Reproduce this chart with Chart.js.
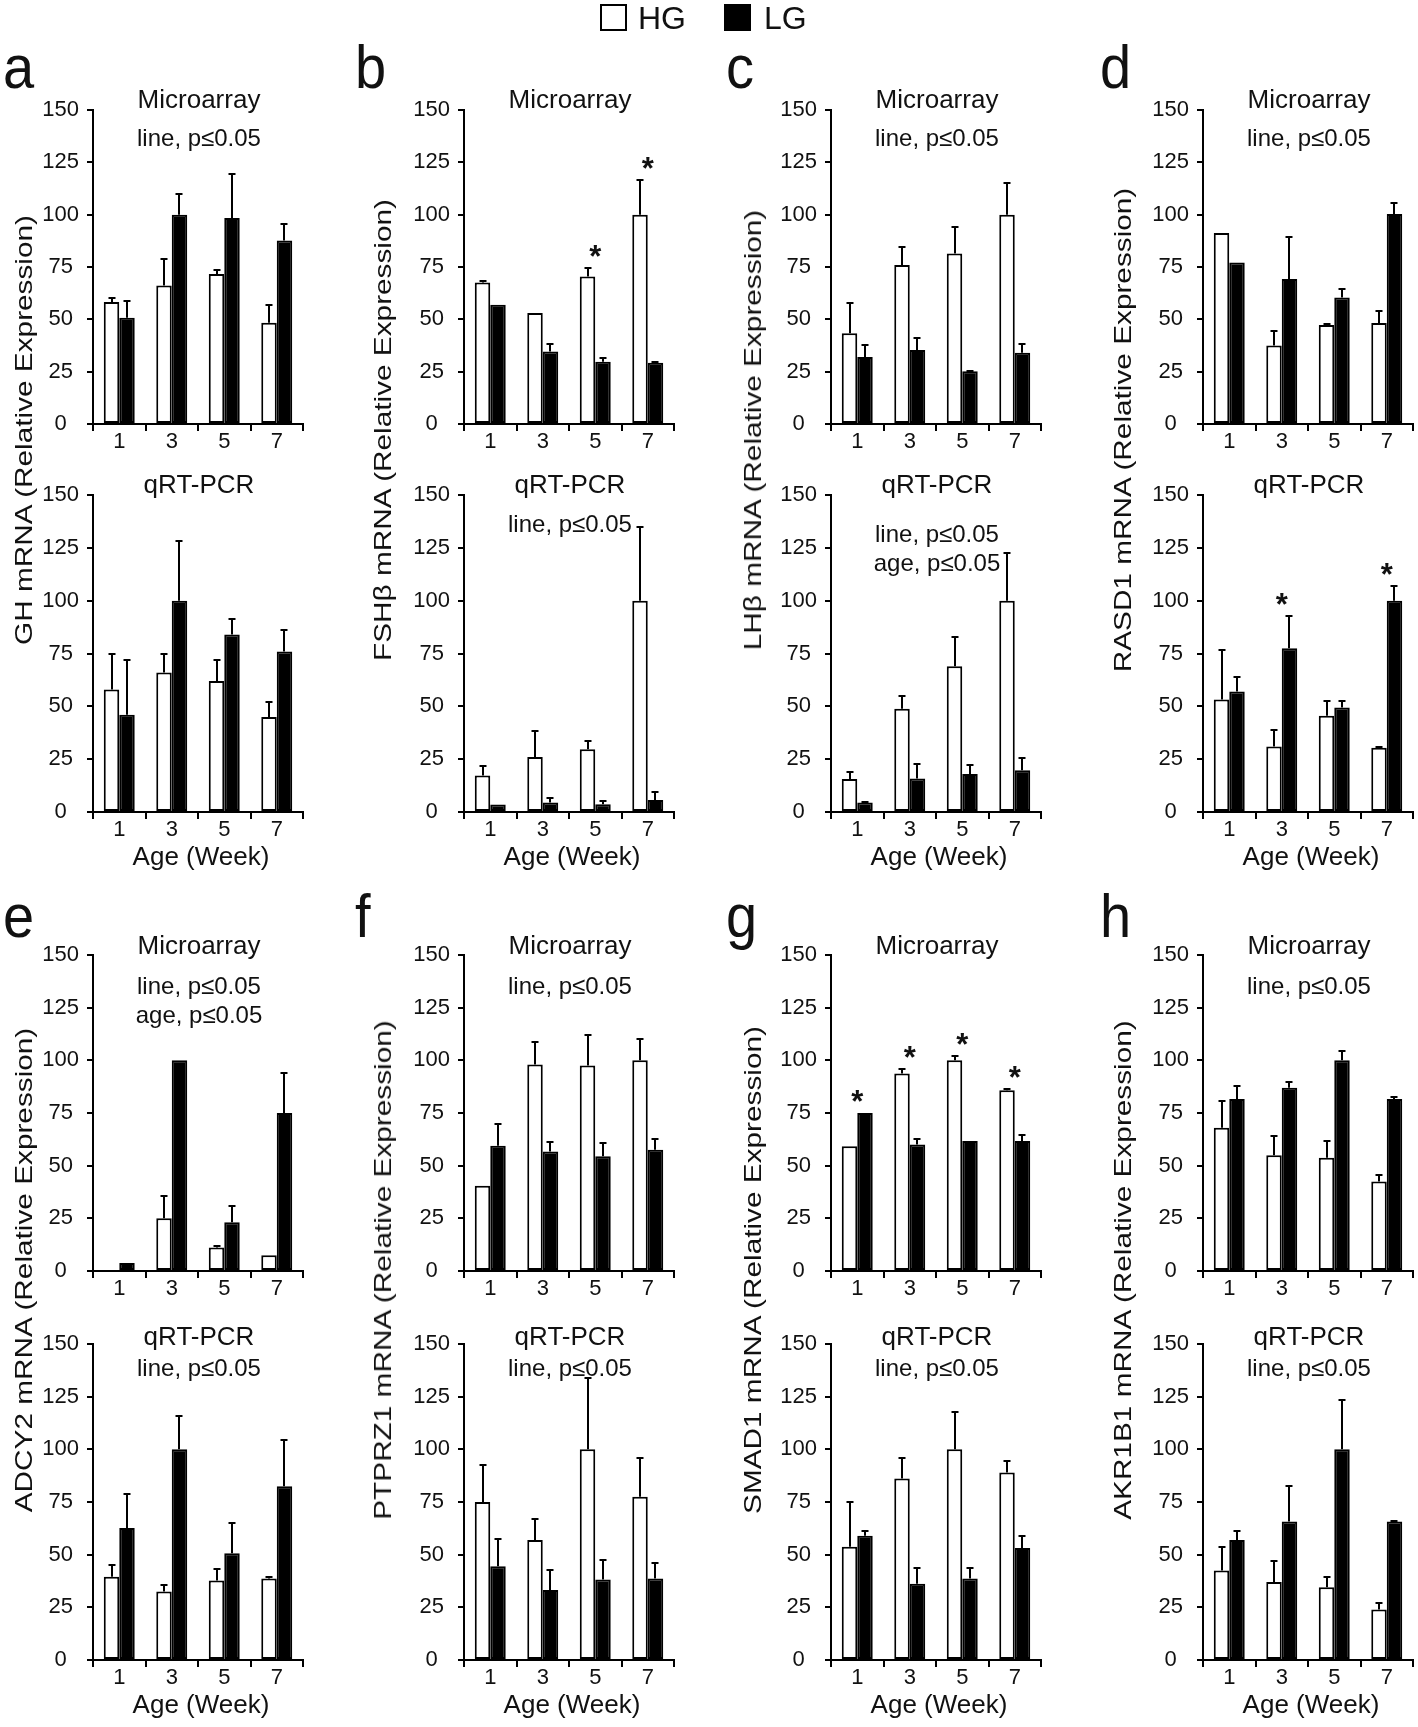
<!DOCTYPE html>
<html>
<head>
<meta charset="utf-8">
<script src="https://cdn.jsdelivr.net/npm/chart.js@4.4.1/dist/chart.umd.min.js"></script>
<style>
  html, body { margin: 0; padding: 0; background: #ffffff; }
  #fig { position: relative; width: 1418px; height: 1727px; overflow: hidden; background: #ffffff;
         font-family: "Liberation Sans", Arial, Helvetica, sans-serif; color: #111; }
  #fig canvas { position: absolute; }
  .txt { position: absolute; white-space: nowrap; line-height: 1; }
  .box { position: absolute; box-sizing: border-box; border: 2px solid #000; }
</style>
</head>
<body>
<div id="fig"></div>
<script>
// ---------------- data ----------------
const weeks = ['1', '3', '5', '7'];
const yTickValues = [0, 25, 50, 75, 100, 125, 150];
const groupNames = ['HG', 'LG'];

// a  GH
const GH_mic_HG = [58.3, 66.2, 71.7, 48.4];
const GH_mic_HG_se = [2.0, 12.4, 2.1, 8.4];
const GH_mic_LG = [50.8, 100, 98.4, 87.6];
const GH_mic_LG_se = [7.9, 10.0, 21.0, 8.0];
const GH_pcr_HG = [58, 66, 62, 45];
const GH_pcr_HG_se = [17, 9, 10, 7];
const GH_pcr_LG = [46, 100, 84, 76];
const GH_pcr_LG_se = [26, 28, 7.5, 10];

// b  FSHβ
const FSHB_mic_HG = [67.6, 53, 70.5, 100];
const FSHB_mic_HG_se = [0.5, 0, 4.2, 16.7];
const FSHB_mic_LG = [57, 34.6, 29.7, 29.2];
const FSHB_mic_LG_se = [0, 3.8, 1.9, 0.3];
const FSHB_mic_star = [0, 0, 1, 1];
const FSHB_pcr_HG = [17.3, 26, 29.7, 100];
const FSHB_pcr_HG_se = [4.5, 12.4, 3.7, 35];
const FSHB_pcr_LG = [3.5, 4.5, 3.7, 5.7];
const FSHB_pcr_LG_se = [0, 1.9, 1.7, 3.7];

// c  LHβ
const LHB_mic_HG = [43.4, 76, 81.4, 100];
const LHB_mic_HG_se = [14.3, 8.6, 12.7, 15.2];
const LHB_mic_LG = [32, 35.3, 25.2, 34];
const LHB_mic_LG_se = [5.6, 5.9, 0.3, 4.4];
const LHB_pcr_HG = [15.6, 48.8, 69, 100];
const LHB_pcr_HG_se = [3.2, 5.9, 13.7, 22.5];
const LHB_pcr_LG = [4.5, 15.8, 18, 19.8];
const LHB_pcr_LG_se = [0.3, 6.7, 4.3, 5.9];

// d  RASD1
const RASD1_mic_HG = [91.3, 37.5, 47.3, 48.2];
const RASD1_mic_HG_se = [0, 7, 0.3, 6];
const RASD1_mic_LG = [77.2, 69.3, 60.4, 100.3];
const RASD1_mic_LG_se = [0, 20.2, 4, 5.3];
const RASD1_pcr_HG = [53.2, 31, 45.5, 30.4];
const RASD1_pcr_HG_se = [23.5, 8, 7, 0.4];
const RASD1_pcr_LG = [57, 77.5, 49.5, 100];
const RASD1_pcr_LG_se = [6.9, 15.3, 3.2, 7];
const RASD1_pcr_star = [0, 1, 0, 1];

// e  ADCY2
const ADCY2_mic_HG = [0, 25, 11.2, 7.5];
const ADCY2_mic_HG_se = [0, 10.7, 0.6, 0];
const ADCY2_mic_LG = [3.8, 100, 23.2, 75];
const ADCY2_mic_LG_se = [0, 0, 7.5, 19.2];
const ADCY2_pcr_HG = [39.5, 32.5, 37.7, 38.7];
const ADCY2_pcr_HG_se = [5.5, 3.2, 5.5, 0.8];
const ADCY2_pcr_LG = [62.7, 100, 50.7, 82.5];
const ADCY2_pcr_LG_se = [16, 15.7, 14.5, 22];

// f  PTPRZ1
const PTPRZ1_mic_HG = [40.5, 98, 97.5, 100];
const PTPRZ1_mic_HG_se = [0, 10.7, 14.5, 10];
const PTPRZ1_mic_LG = [59.5, 56.7, 54.5, 57.5];
const PTPRZ1_mic_LG_se = [10.5, 4.5, 6.2, 5];
const PTPRZ1_pcr_HG = [75, 57, 100, 77.5];
const PTPRZ1_pcr_HG_se = [17.5, 10, 33.7, 18.2];
const PTPRZ1_pcr_LG = [44.5, 33.2, 38.2, 38.7];
const PTPRZ1_pcr_LG_se = [13, 9.5, 9.3, 7.5];

// g  SMAD1
const SMAD1_mic_HG = [59.2, 93.7, 100, 85.8];
const SMAD1_mic_HG_se = [0, 2, 2, 0.5];
const SMAD1_mic_LG = [75, 60, 61.7, 61.7];
const SMAD1_mic_LG_se = [0, 2.5, 0, 2.8];
const SMAD1_mic_star = [1, 1, 1, 1];
const SMAD1_pcr_HG = [53.7, 86.2, 100, 89];
const SMAD1_pcr_HG_se = [21.5, 9.5, 17.5, 5.5];
const SMAD1_pcr_LG = [59, 36.2, 38.7, 53.2];
const SMAD1_pcr_LG_se = [2, 7.5, 5, 5.8];

// h  AKR1B1
const AKR1B1_mic_HG = [68, 55, 53.7, 42.5];
const AKR1B1_mic_HG_se = [12.7, 9.2, 8, 3.2];
const AKR1B1_mic_LG = [81.7, 87, 100, 81.7];
const AKR1B1_mic_LG_se = [6.3, 2.5, 4.2, 0.8];
const AKR1B1_pcr_HG = [42.5, 37, 34.5, 24];
const AKR1B1_pcr_HG_se = [11.2, 10, 5, 3];
const AKR1B1_pcr_LG = [57, 65.7, 100, 65.7];
const AKR1B1_pcr_LG_se = [4.2, 16.7, 23.2, 0.5];

const noteLine = 'line, p≤0.05';
const noteAge = 'age, p≤0.05';

const panels = [
  { letter: 'a', ylabel: 'GH mRNA (Relative Expression)', col: 0, row: 0,
    mic: { hg: GH_mic_HG, hgSe: GH_mic_HG_se, lg: GH_mic_LG, lgSe: GH_mic_LG_se, notes: [noteLine] },
    pcr: { hg: GH_pcr_HG, hgSe: GH_pcr_HG_se, lg: GH_pcr_LG, lgSe: GH_pcr_LG_se, notes: [] } },
  { letter: 'b', ylabel: 'FSHβ mRNA (Relative Expression)', col: 1, row: 0,
    mic: { hg: FSHB_mic_HG, hgSe: FSHB_mic_HG_se, lg: FSHB_mic_LG, lgSe: FSHB_mic_LG_se, notes: [], stars: FSHB_mic_star },
    pcr: { hg: FSHB_pcr_HG, hgSe: FSHB_pcr_HG_se, lg: FSHB_pcr_LG, lgSe: FSHB_pcr_LG_se, notes: [noteLine] } },
  { letter: 'c', ylabel: 'LHβ mRNA (Relative Expression)', col: 2, row: 0,
    mic: { hg: LHB_mic_HG, hgSe: LHB_mic_HG_se, lg: LHB_mic_LG, lgSe: LHB_mic_LG_se, notes: [noteLine] },
    pcr: { hg: LHB_pcr_HG, hgSe: LHB_pcr_HG_se, lg: LHB_pcr_LG, lgSe: LHB_pcr_LG_se, notes: [noteLine, noteAge], noteStart: 40 } },
  { letter: 'd', ylabel: 'RASD1 mRNA (Relative Expression)', col: 3, row: 0,
    mic: { hg: RASD1_mic_HG, hgSe: RASD1_mic_HG_se, lg: RASD1_mic_LG, lgSe: RASD1_mic_LG_se, notes: [noteLine] },
    pcr: { hg: RASD1_pcr_HG, hgSe: RASD1_pcr_HG_se, lg: RASD1_pcr_LG, lgSe: RASD1_pcr_LG_se, notes: [], stars: RASD1_pcr_star } },
  { letter: 'e', ylabel: 'ADCY2 mRNA (Relative Expression)', col: 0, row: 1,
    mic: { hg: ADCY2_mic_HG, hgSe: ADCY2_mic_HG_se, lg: ADCY2_mic_LG, lgSe: ADCY2_mic_LG_se, notes: [noteLine, noteAge] },
    pcr: { hg: ADCY2_pcr_HG, hgSe: ADCY2_pcr_HG_se, lg: ADCY2_pcr_LG, lgSe: ADCY2_pcr_LG_se, notes: [noteLine] } },
  { letter: 'f', ylabel: 'PTPRZ1 mRNA (Relative Expression)', col: 1, row: 1,
    mic: { hg: PTPRZ1_mic_HG, hgSe: PTPRZ1_mic_HG_se, lg: PTPRZ1_mic_LG, lgSe: PTPRZ1_mic_LG_se, notes: [noteLine] },
    pcr: { hg: PTPRZ1_pcr_HG, hgSe: PTPRZ1_pcr_HG_se, lg: PTPRZ1_pcr_LG, lgSe: PTPRZ1_pcr_LG_se, notes: [noteLine] } },
  { letter: 'g', ylabel: 'SMAD1 mRNA (Relative Expression)', col: 2, row: 1,
    mic: { hg: SMAD1_mic_HG, hgSe: SMAD1_mic_HG_se, lg: SMAD1_mic_LG, lgSe: SMAD1_mic_LG_se, notes: [], stars: SMAD1_mic_star },
    pcr: { hg: SMAD1_pcr_HG, hgSe: SMAD1_pcr_HG_se, lg: SMAD1_pcr_LG, lgSe: SMAD1_pcr_LG_se, notes: [noteLine] } },
  { letter: 'h', ylabel: 'AKR1B1 mRNA (Relative Expression)', col: 3, row: 1,
    mic: { hg: AKR1B1_mic_HG, hgSe: AKR1B1_mic_HG_se, lg: AKR1B1_mic_LG, lgSe: AKR1B1_mic_LG_se, notes: [noteLine] },
    pcr: { hg: AKR1B1_pcr_HG, hgSe: AKR1B1_pcr_HG_se, lg: AKR1B1_pcr_LG, lgSe: AKR1B1_pcr_LG_se, notes: [noteLine] } }
];

// ---------------- layout ----------------
const FONT = '"Liberation Sans", Arial, Helvetica, sans-serif';
const colX = [93, 464, 831, 1203];               // left edge of plot area
const plotW = 210;
const plotY = [[110, 424], [495, 812], [955, 1271], [1344, 1660]]; // [top(150), bottom(0)]
const titleDy = [-9, -9, -8, -6];
const noteDy = [29, 30, 32, 25];
const noteGap = 29;
const yTitleX = [24, 383, 753, 1123];
const yTitleY = [430, 1270];
const letterX = [3, 355, 726, 1100];
const letterBase = [88, 937];
const PAD_L = 80, PAD_T = 40, PAD_R = 6, PAD_B = 62;

const fig = document.getElementById('fig');

// ---------------- plugins ----------------
const errorBarPlugin = {
  id: 'errorBars',
  afterDatasetsDraw(chart) {
    const ctx = chart.ctx;
    const ys = chart.scales.y, xs = chart.scales.x;
    ctx.save();
    ctx.strokeStyle = '#000';
    ctx.lineWidth = 2;
    chart.data.datasets.forEach((ds, di) => {
      const meta = chart.getDatasetMeta(di);
      meta.data.forEach((bar, i) => {
        const se = ds.se ? ds.se[i] : 0;
        if (!se || se <= 0) return;
        const yTop = Math.round(ys.getPixelForValue(ds.data[i] + se));
        const bx = Math.round(bar.x);
        ctx.beginPath();
        ctx.moveTo(bx, bar.y);
        ctx.lineTo(bx, yTop);
        ctx.moveTo(bx - 3.5, yTop);
        ctx.lineTo(bx + 3.5, yTop);
        ctx.stroke();
      });
    });
    const opts = chart.options.plugins.panelText || {};
    const stars = opts.stars;
    if (stars) {
      const fs = 31;
      ctx.fillStyle = '#111';
      ctx.font = 'bold ' + fs + 'px ' + FONT;
      ctx.textAlign = 'center';
      ctx.textBaseline = 'alphabetic';
      stars.forEach((s, i) => {
        if (!s) return;
        let top = 0;
        chart.data.datasets.forEach(ds => { top = Math.max(top, ds.data[i] + (ds.se ? ds.se[i] : 0)); });
        const py = ys.getPixelForValue(top + 9);
        ctx.fillText('*', xs.getPixelForValue(i), py + 0.58 * fs);
      });
    }
    ctx.restore();
  }
};

const panelTextPlugin = {
  id: 'panelText',
  afterDraw(chart, args, opts) {
    const ctx = chart.ctx, a = chart.chartArea;
    const cx = (a.left + a.right) / 2;
    ctx.save();
    ctx.fillStyle = '#111';
    ctx.textAlign = 'center';
    ctx.textBaseline = 'middle';
    if (opts.title) {
      ctx.font = '26px ' + FONT;
      ctx.fillText(opts.title, cx + 1, a.top + opts.titleDy);
    }
    ctx.font = '24px ' + FONT;
    (opts.notes || []).forEach((t, k) => {
      ctx.fillText(t, cx + 1, a.top + opts.noteDy + k * noteGap);
    });
    if (opts.xTitle) {
      ctx.font = '26px ' + FONT;
      ctx.fillText(opts.xTitle, cx + 3, a.bottom + 46);
    }
    ctx.restore();
  }
};

// ---------------- build charts ----------------
function makeChart(spec, col, slot, title, isBottom) {
  const x0 = colX[col];
  const [yTop, yBot] = plotY[slot];
  const c = document.createElement('canvas');
  c.width = PAD_L + plotW + PAD_R;
  c.height = PAD_T + (yBot - yTop) + PAD_B;
  c.style.left = (x0 - PAD_L) + 'px';
  c.style.top = (yTop - PAD_T) + 'px';
  fig.appendChild(c);

  const tickFont = { family: FONT, size: 22, lineHeight: 0.9 };
  new Chart(c, {
    type: 'bar',
    data: {
      labels: weeks,
      datasets: [
        { label: groupNames[0], data: spec.hg, se: spec.hgSe, backgroundColor: '#ffffff',
          borderColor: '#000000', borderWidth: 2, borderSkipped: false },
        { label: groupNames[1], data: spec.lg, se: spec.lgSe, backgroundColor: '#000000',
          borderColor: '#000000', borderWidth: 2, borderSkipped: false }
      ]
    },
    options: {
      responsive: false,
      animation: false,
      devicePixelRatio: 1,
      events: [],
      datasets: { bar: { categoryPercentage: 0.59, barPercentage: 1.0 } },
      layout: { padding: { top: PAD_T, left: 0, right: PAD_R, bottom: 0 } },
      plugins: {
        legend: { display: false },
        tooltip: { enabled: false },
        title: { display: false },
        panelText: {
          title: title,
          titleDy: titleDy[slot],
          notes: spec.notes,
          noteDy: spec.noteStart !== undefined ? spec.noteStart : noteDy[slot],
          xTitle: isBottom ? 'Age (Week)' : null,
          stars: spec.stars || null
        }
      },
      scales: {
        x: {
          type: 'category',
          offset: true,
          grid: { display: true, drawOnChartArea: false, drawTicks: true, tickLength: 7,
                  color: '#000', lineWidth: 2, offset: true },
          border: { display: true, color: '#000', width: 2 },
          ticks: { font: tickFont, color: '#111', padding: 1, maxRotation: 0, autoSkip: false },
          afterFit: s => { s.height = PAD_B; }
        },
        y: {
          min: 0, max: 150,
          afterBuildTicks: s => { s.ticks = yTickValues.map(v => ({ value: v })); },
          grid: { display: true, drawOnChartArea: false, drawTicks: true, tickLength: 6,
                  color: '#000', lineWidth: 2 },
          border: { display: true, color: '#000', width: 2 },
          ticks: { font: { family: FONT, size: 22 }, color: '#111', padding: 8, crossAlign: 'center' },
          afterFit: s => { s.width = PAD_L; }
        }
      }
    },
    plugins: [errorBarPlugin, panelTextPlugin]
  });
}

panels.forEach(p => {
  const slotTop = p.row * 2, slotBot = p.row * 2 + 1;
  makeChart(p.mic, p.col, slotTop, 'Microarray', false);
  makeChart(p.pcr, p.col, slotBot, 'qRT-PCR', true);

  // panel letter
  const L = document.createElement('div');
  L.className = 'txt';
  L.style.fontSize = '56px';
  L.style.left = letterX[p.col] + 'px';
  L.style.top = (letterBase[p.row] - 47) + 'px';
  L.style.transformOrigin = '50% 85%';
  L.style.transform = 'scaleY(1.1)';
  L.textContent = p.letter;
  fig.appendChild(L);

  // y axis title
  const Y = document.createElement('div');
  Y.className = 'txt';
  Y.style.fontSize = '24px';
  Y.style.left = yTitleX[p.col] + 'px';
  Y.style.top = yTitleY[p.row] + 'px';
  Y.style.transform = 'translate(-50%, -50%) rotate(-90deg) scaleX(1.24)';
  Y.textContent = p.ylabel;
  fig.appendChild(Y);
});

// legend
function legendItem(boxLeft, fill, label, textLeft) {
  const b = document.createElement('div');
  b.className = 'box';
  b.style.left = boxLeft + 'px'; b.style.top = '4px';
  b.style.width = '27px'; b.style.height = '27px';
  b.style.background = fill;
  fig.appendChild(b);
  const t = document.createElement('div');
  t.className = 'txt';
  t.style.fontSize = '32px';
  t.style.left = textLeft + 'px'; t.style.top = '2px';
  t.textContent = label;
  fig.appendChild(t);
}
legendItem(600, '#ffffff', groupNames[0], 638);
legendItem(724, '#000000', groupNames[1], 764);
</script>
</body>
</html>
